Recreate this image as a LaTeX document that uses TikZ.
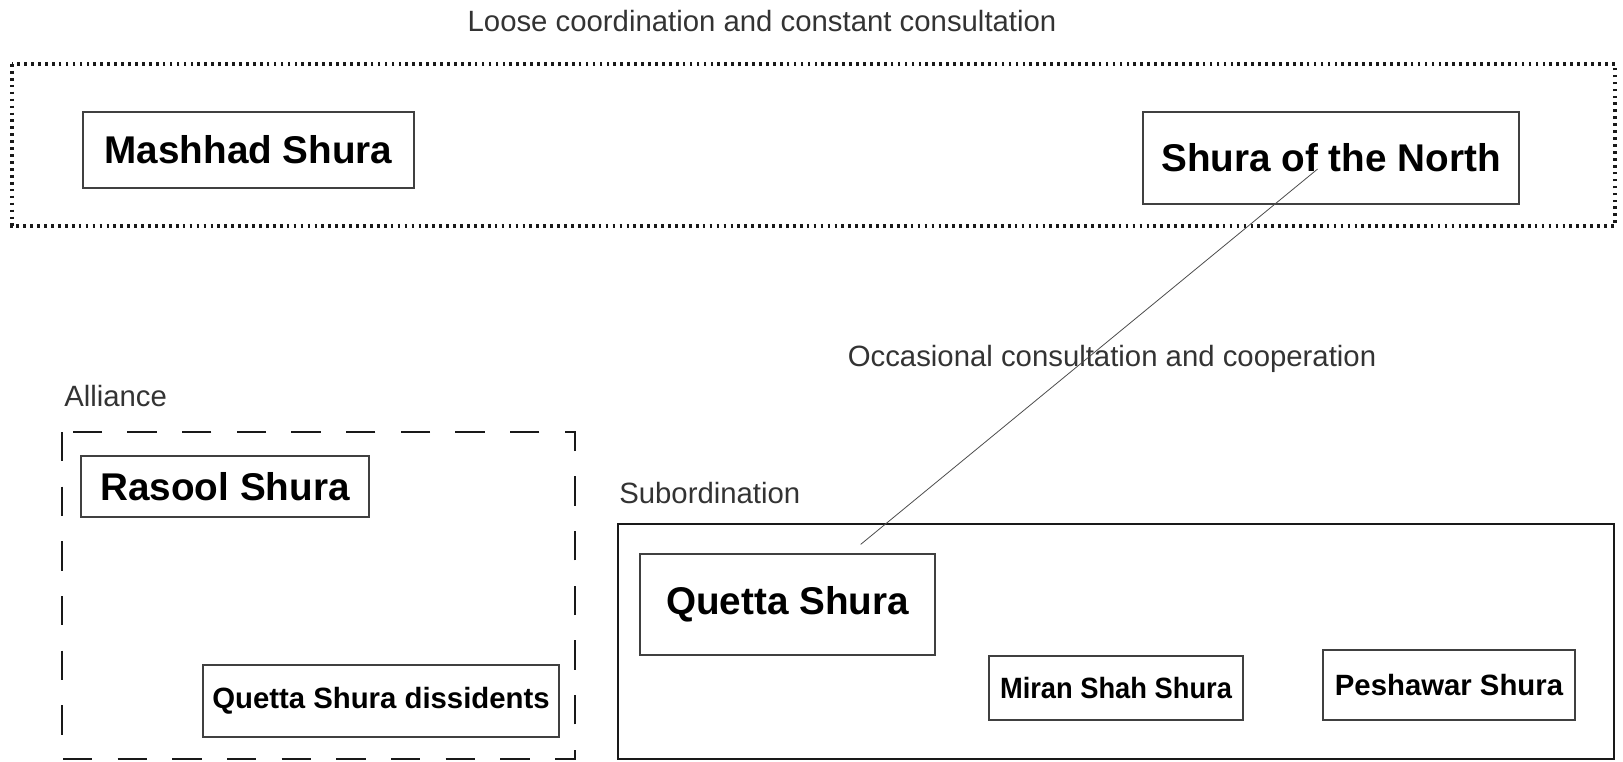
\documentclass[tikz,border=0pt]{standalone}
\usepackage{fontspec}
\usepackage{graphicx}
\setmainfont{Liberation Sans}
\begin{document}
\begin{tikzpicture}[x=0.75pt,y=-0.75pt,
  shura/.style={draw=black!75,line width=1.1pt,rectangle,inner sep=0pt,font=\fontsize{29}{34}\selectfont\bfseries},
  smallshura/.style={draw=black!75,line width=1.1pt,rectangle,inner sep=0pt,font=\fontsize{22}{26}\selectfont\bfseries},
  lbl/.style={inner sep=0pt,text=black!80,font=\fontsize{22}{26}\selectfont},
  dottedframe/.style={draw=black!90,line width=2.3pt,dash pattern=on 2pt off 3.2pt},
  dashedframe/.style={draw=black!90,line width=1.6pt,dash pattern=on 22pt off 19pt},
  solidframe/.style={draw=black!90,line width=1.9pt},
  link/.style={draw=black!70,line width=0.6pt}]
\useasboundingbox (0,0) rectangle (1623,761);
% frames
\draw[dottedframe] (12,64) rectangle (1615,226);
\draw[dashedframe] (62,432) rectangle (575,759);
\draw[solidframe] (618,524) rectangle (1614,759);
% labels
\node[lbl] (title) at (762,21) {Loose coordination and constant consultation};
\node[lbl] (occ) at (1112,359) {Occasional consultation and cooperation};
\node[lbl,anchor=west] (alliance) at (64,396) {Alliance};
\node[lbl,anchor=west] (subord) at (619,493) {Subordination};
% shuras
\node[shura,minimum width=248.25pt,minimum height=57pt] (mashhad) at (248.5,150) {Mashhad Shura};
\node[shura,minimum width=282pt,minimum height=69pt] (north) at (1331,158) {Shura of the North};
\node[shura,minimum width=216pt,minimum height=45.75pt] (rasool) at (225,486.5) {Rasool Shura};
\node[shura,minimum width=221.25pt,minimum height=75.75pt] (quetta) at (787.5,604.5) {Quetta Shura};
\node[smallshura,minimum width=267pt,minimum height=54pt] (diss) at (381,701) {Quetta Shura dissidents};
\node[smallshura,minimum width=190.5pt,minimum height=48pt] (miran) at (1116,688) {\scalebox{0.93}[1]{Miran Shah Shura}};
\node[smallshura,minimum width=189pt,minimum height=52.5pt] (peshawar) at (1449,685) {Peshawar Shura};
% connector
\draw[link,shorten <=13pt,shorten >=71pt] (north.center) -- (quetta.center);
\end{tikzpicture}
\end{document}
